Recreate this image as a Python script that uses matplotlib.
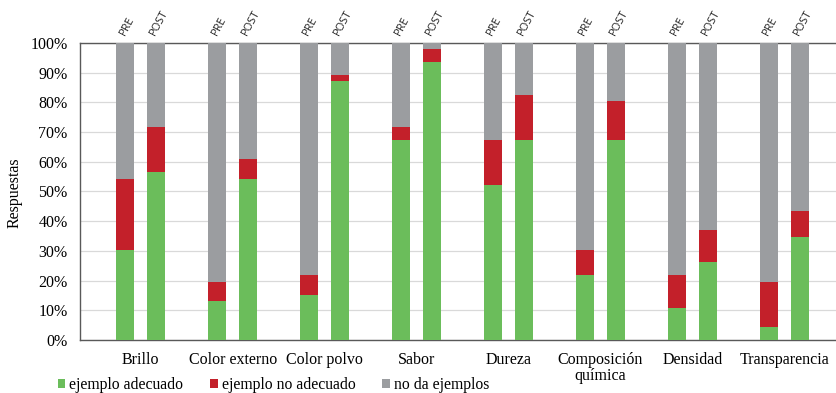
import matplotlib
matplotlib.use("Agg")
import matplotlib.pyplot as plt
import numpy as np
from matplotlib.patches import Patch

categories = ["Brillo", "Color externo", "Color polvo", "Sabor", "Dureza",
              "Composición\nquímica", "Densidad", "Transparencia"]
phases = ["PRE", "POST"]
series_names = ["ejemplo adecuado", "ejemplo no adecuado", "no da ejemplos"]

# percentages per category
pre_adecuado = [30.4, 13.0, 15.2, 67.4, 52.2, 21.7, 10.9, 4.3]
pre_no_adecuado = [23.9, 6.6, 6.5, 4.3, 15.2, 8.7, 10.8, 15.3]
post_adecuado = [56.5, 54.3, 87.0, 93.5, 67.4, 67.4, 26.1, 34.8]
post_no_adecuado = [15.2, 6.6, 2.1, 4.3, 15.2, 13.0, 10.9, 8.7]

colors = ["#6bbd5b", "#c3202a", "#9b9da0"]

plt.rcParams["font.family"] = ["Liberation Serif", "DejaVu Serif"]

fig = plt.figure(figsize=(8.37, 3.93), dpi=100)
ax = fig.add_axes([0.0956, 0.135, 0.903, 0.756])

x = np.arange(len(categories))
offset = 0.168
width = 0.196

for sign, phase, ad, noad in [(-1, "PRE", pre_adecuado, pre_no_adecuado),
                              (1, "POST", post_adecuado, post_no_adecuado)]:
    ad = np.array(ad)
    noad = np.array(noad)
    rest = 100 - ad - noad
    xs = x + sign * offset
    ax.bar(xs, ad, width, color=colors[0], zorder=3)
    ax.bar(xs, noad, width, bottom=ad, color=colors[1], zorder=3)
    ax.bar(xs, rest, width, bottom=ad + noad, color=colors[2], zorder=3)
    for xi in xs:
        ax.text(xi + 0.02, 101.8, phase, rotation=62, ha="left", va="bottom",
                fontsize=8, family=["Open Sans", "DejaVu Sans"], rotation_mode="anchor",
                color="#222222", clip_on=False, zorder=5,
                bbox=dict(facecolor="white", edgecolor="none", pad=1.0))

ax.set_xlim(-0.66, 7.56)
ax.set_ylim(0, 100)
ax.set_yticks(np.arange(0, 101, 10))
ax.set_yticklabels([f"{v}%" for v in range(0, 101, 10)], fontsize=11.5)
ax.set_xticks(x)
ax.set_xticklabels(categories, fontsize=11.5, linespacing=1.0)
ax.tick_params(axis="both", length=0)
ax.tick_params(axis="y", pad=9)
ax.tick_params(axis="x", pad=9)
ax.yaxis.grid(True, color="#d9d9d9", linewidth=0.9, zorder=0)
ax.set_axisbelow(True)
for s in ["left", "bottom", "top"]:
    ax.spines[s].set_color("#595959")
    ax.spines[s].set_linewidth(1.0)
ax.spines["right"].set_visible(False)
ax.set_ylabel("Respuestas", fontsize=11.5)
ax.yaxis.set_label_coords(-0.076, 0.495)

handles = [Patch(facecolor=c, label=n) for c, n in zip(colors, series_names)]
fig.legend(handles=handles, loc="lower left", bbox_to_anchor=(0.052, -0.035), ncol=3,
           frameon=False, fontsize=11.3, handlelength=0.5, handleheight=0.5,
           handletextpad=0.25, columnspacing=1.7)

fig.savefig("out.png", dpi=100)
